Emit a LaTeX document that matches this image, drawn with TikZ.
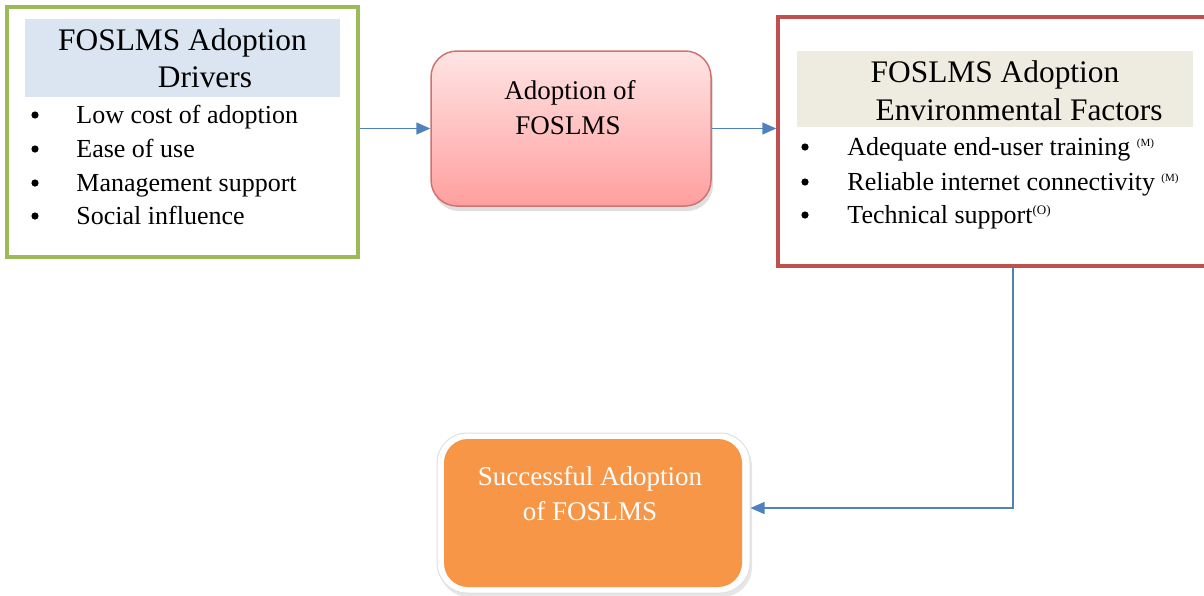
\documentclass[tikz,border=0pt]{standalone}
\usepackage{fontspec}
\setmainfont{Liberation Serif}
\usetikzlibrary{arrows.meta,shadows}

\definecolor{drvgreen}{HTML}{9BBB59}
\definecolor{drvhead}{HTML}{DBE5F1}
\definecolor{envred}{HTML}{C0504D}
\definecolor{envhead}{HTML}{EEECE1}
\definecolor{pinktop}{HTML}{FFE4E4}
\definecolor{pinkbot}{HTML}{FF9F9F}
\definecolor{succorange}{HTML}{F79646}
\definecolor{linkblue}{HTML}{4F81BD}

\tikzset{
  framebox/.style={draw, inner sep=0pt, line width=2pt},
  headbox/.style={draw=none, inner sep=0pt},
  titletext/.style={inner sep=0pt, anchor=base, font=\fontsize{15.7}{18}\selectfont},
  itemtext/.style={inner sep=0pt, anchor=base west, font=\fontsize{13}{15}\selectfont},
  bulletdot/.style={circle, fill=black, inner sep=0pt, minimum size=3.6pt},
  boxtext/.style={inner sep=0pt, anchor=base, font=\fontsize{13.5}{16}\selectfont},
  link/.style={draw=linkblue, line width=0.75pt,
    -{Triangle[length=7pt,width=6pt]}}
}
\newcommand{\supmark}[1]{\raisebox{0.75ex}{\fontsize{5.5}{6}\selectfont #1}}

\begin{document}
\begin{tikzpicture}[x=0.5pt, y=-0.5pt]
\useasboundingbox (0,0) rectangle (1204,595);

% drivers box
\node[framebox, draw=drvgreen, minimum width=175.5pt, minimum height=125pt]
  (drivers) at (182.5,132) {};
\node[headbox, fill=drvhead, minimum width=157.5pt, minimum height=39pt]
  (drvhd) at (182.5,58) {};
\node[titletext] (drvt1) at (182.5,50) {FOSLMS Adoption};
\node[titletext] (drvt2) at (205,87) {Drivers};
\foreach \y/\txt [count=\i] in {123/Low cost of adoption, 157/Ease of use,
    191/Management support, 224/Social influence} {
  \node[bulletdot] (drvb\i) at (35,\y-8) {};
  \node[itemtext] (drvi\i) at (76,\y) {\txt};
}

% central process box
\node[draw=envred!80, line width=0.75pt, rounded corners=13pt,
  top color=pinktop, bottom color=pinkbot,
  minimum width=140pt, minimum height=77.5pt, inner sep=0pt,
  drop shadow={opacity=0.25, shadow xshift=1pt, shadow yshift=-2.5pt}]
  (adopt) at (571,128.5) {};
\node[boxtext] (adt1) at (570,99) {Adoption of};
\node[boxtext] (adt2) at (568,134) {FOSLMS};

% environmental factors box
\node[framebox, draw=envred, line width=1.75pt,
  minimum width=218.5pt, minimum height=124.5pt]
  (env) at (996.5,141.5) {};
\node[headbox, fill=envhead, minimum width=198pt, minimum height=38pt]
  (envhd) at (995,89) {};
\node[titletext] (envt1) at (995,82) {FOSLMS Adoption};
\node[titletext] (envt2) at (1019,120) {Environmental Factors};
\node[bulletdot] (envb1) at (805,155-8) {};
\node[itemtext] (envi1) at (847,155) {Adequate end-user training \supmark{(M)}};
\node[bulletdot] (envb2) at (805,190-8) {};
\node[itemtext] (envi2) at (847,190) {Reliable internet connectivity \supmark{(M)}};
\node[bulletdot] (envb3) at (805,223-8) {};
\node[itemtext] (envi3) at (847,223) {Technical support\raisebox{0.7ex}{\fontsize{6.5}{7}\selectfont(O)}};

% outcome box
\node[draw=black!12, fill=white, line width=0.5pt, rounded corners=15pt,
  minimum width=156.5pt, minimum height=80pt, inner sep=0pt,
  drop shadow={opacity=0.2, shadow xshift=1pt, shadow yshift=-2pt}]
  (success) at (593.5,513) {};
\node[fill=succorange, rounded corners=12pt,
  minimum width=149pt, minimum height=74pt, inner sep=0pt]
  (succin) at (593,513) {};
\node[boxtext, text=white] (sct1) at (590,485) {Successful Adoption};
\node[boxtext, text=white] (sct2) at (590,520) {of FOSLMS};

% connectors
\draw[link] (adopt.west -| drivers.east) -- (adopt.west);
\draw[link] (adopt.east) -- (adopt.east -| env.west);
\coordinate (bend) at (1013,508);
\draw[link] (bend |- env.south) -- (bend) -- (bend -| success.east);
\end{tikzpicture}
\end{document}
